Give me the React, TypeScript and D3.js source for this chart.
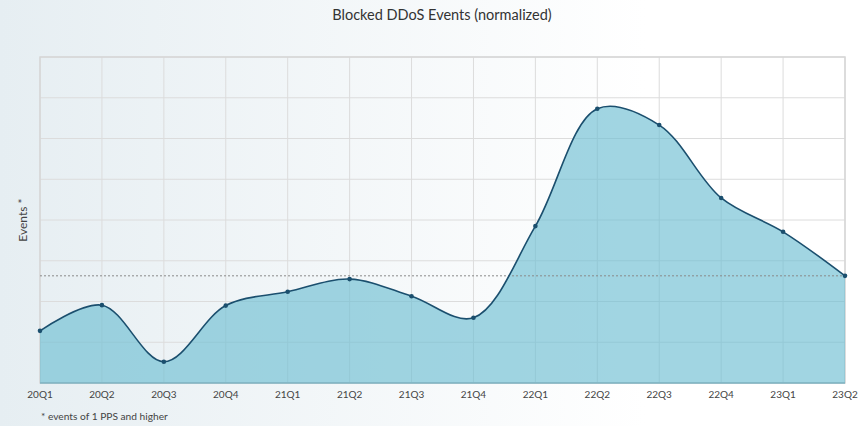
import React from "react";
import * as d3 from "d3";

const categories = ["20Q1","20Q2","20Q3","20Q4","21Q1","21Q2","21Q3","21Q4","22Q1","22Q2","22Q3","22Q4","23Q1","23Q2"];
const values = [1.28, 1.91, 0.52, 1.90, 2.24, 2.55, 2.13, 1.60, 3.85, 6.73, 6.33, 4.54, 3.71, 2.63];
const referenceValue = 2.63;
const yGridTicks = [0, 1, 2, 3, 4, 5, 6, 7, 8];
const title = "Blocked DDoS Events (normalized)";
const yLabel = "Events *";
const footnote = "* events of 1 PPS and higher";

const W = 861, H = 426;
const M = { left: 40, right: 16, top: 57, bottom: 43 };
const FONT = "'Source Sans Pro', Lato, 'Open Sans', sans-serif";

export default function App() {
  const x = d3.scalePoint<string>().domain(categories).range([M.left, W - M.right]);
  const y = d3.scaleLinear().domain([0, 8]).range([H - M.bottom, M.top]);
  const data = categories.map((c, i) => ({ c, v: values[i] }));
  const curve = d3.curveCatmullRom.alpha(0.5);
  const line = d3.line<{ c: string; v: number }>().x(d => x(d.c)!).y(d => y(d.v)).curve(curve);
  const area = d3.area<{ c: string; v: number }>().x(d => x(d.c)!).y0(y(0)).y1(d => y(d.v)).curve(curve);
  const x0 = M.left, x1 = W - M.right, yTop = M.top, yBot = H - M.bottom;

  return (
    <svg width={W} height={H} style={{ position: "absolute", left: 0, top: 0 }} fontFamily={FONT}>
      <defs>
        <linearGradient id="bg" x1="0" x2="1" y1="0" y2="0">
          <stop offset="0" stopColor="#e6eef2" />
          <stop offset="0.75" stopColor="#ffffff" />
          <stop offset="1" stopColor="#ffffff" />
        </linearGradient>
      </defs>
      <rect x={0} y={0} width={W} height={H} fill="url(#bg)" />
      <text x={442} y={20} textAnchor="middle" fontSize={14.5} fill="#333">{title}</text>
      {yGridTicks.map(t => (
        <line key={"h" + t} x1={x0} x2={x1} y1={y(t)} y2={y(t)} stroke="#dcdcdc" strokeWidth={1} />
      ))}
      {categories.map(c => (
        <line key={"v" + c} x1={x(c)} x2={x(c)} y1={yTop} y2={yBot} stroke="#dcdcdc" strokeWidth={1} />
      ))}
      <rect x={x0} y={yTop} width={x1 - x0} height={yBot - yTop} fill="none" stroke="#d6d6d6" strokeWidth={1.5} />
      <path d={area(data)!} fill="#6fbfd2" fillOpacity={0.65} />
      <line x1={x0} x2={x1} y1={y(referenceValue)} y2={y(referenceValue)} stroke="#8a8a8a" strokeWidth={1} strokeDasharray="2,2" />
      <line x1={x0} x2={x1} y1={yBot} y2={yBot} stroke="#7fb3c2" strokeWidth={1.5} />
      <path d={line(data)!} fill="none" stroke="#1b4f6e" strokeWidth={1.6} />
      {data.map(d => (
        <circle key={d.c} cx={x(d.c)} cy={y(d.v)} r={2.3} fill="#1b4f6e" />
      ))}
      {categories.map(c => (
        <text key={"t" + c} x={x(c)} y={398} textAnchor="middle" fontSize={10} fill="#444">{c}</text>
      ))}
      <text transform={`translate(27,${(yTop + yBot) / 2}) rotate(-90)`} textAnchor="middle" fontSize={12} fill="#444">{yLabel}</text>
      <text x={41} y={420} fontSize={10.2} fill="#444">{footnote}</text>
    </svg>
  );
}
